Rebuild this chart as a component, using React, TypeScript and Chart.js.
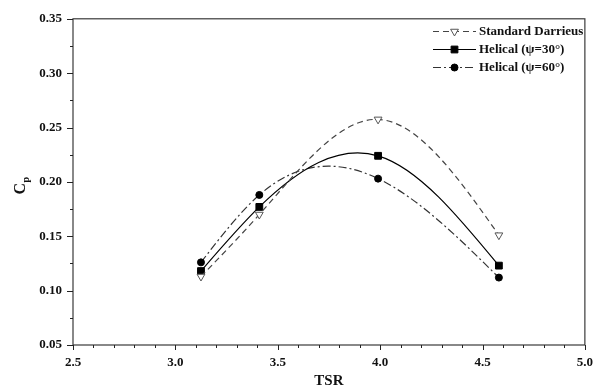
import React, { useEffect, useRef } from 'react';
import { Chart, registerables } from 'chart.js';
import { drawPoint } from 'chart.js/helpers';

Chart.register(...registerables);

// ---- data ----
const tsr = [3.125, 3.41, 3.99, 4.58];
const standardDarrieus = [0.113, 0.17, 0.2575, 0.151];
const helical30 = [0.118, 0.177, 0.224, 0.123];
const helical60 = [0.126, 0.188, 0.203, 0.112];
const seriesLabels = ['Standard Darrieus', 'Helical (ψ=30°)', 'Helical (ψ=60°)'];
const xTickValues = [2.5, 3.0, 3.5, 4.0, 4.5, 5.0];
const yTickValues = [0.05, 0.1, 0.15, 0.2, 0.25, 0.3, 0.35];
const xTitle = 'TSR';
const yTitleMain = 'C';
const yTitleSub = 'p';

const FONT = "'Liberation Serif', 'Times New Roman', serif";

const toPoints = (ys: number[]) => tsr.map((x, i) => ({ x, y: ys[i] }));

// Natural cubic spline node derivatives (data space)
function splineDerivs(xs: number[], ys: number[]) {
  const n = xs.length;
  const h: number[] = [];
  const s: number[] = [];
  for (let i = 0; i < n - 1; i++) {
    h.push(xs[i + 1] - xs[i]);
    s.push((ys[i + 1] - ys[i]) / h[i]);
  }
  const M = new Array(n).fill(0);
  if (n > 2) {
    const a: number[] = [], b: number[] = [], c: number[] = [], d: number[] = [];
    for (let i = 1; i < n - 1; i++) {
      a.push(h[i - 1]);
      b.push(2 * (h[i - 1] + h[i]));
      c.push(h[i]);
      d.push(6 * (s[i] - s[i - 1]));
    }
    const m = b.length;
    for (let i = 1; i < m; i++) {
      const w = a[i] / b[i - 1];
      b[i] -= w * c[i - 1];
      d[i] -= w * d[i - 1];
    }
    const sol = new Array(m).fill(0);
    sol[m - 1] = d[m - 1] / b[m - 1];
    for (let i = m - 2; i >= 0; i--) sol[i] = (d[i] - c[i] * sol[i + 1]) / b[i];
    for (let i = 0; i < m; i++) M[i + 1] = sol[i];
  }
  const der: number[] = [];
  for (let i = 0; i < n; i++) {
    if (i < n - 1) der.push(s[i] - (h[i] * (2 * M[i] + M[i + 1])) / 6);
    else der.push(s[n - 2] + (h[n - 2] * (M[n - 2] + 2 * M[n - 1])) / 6);
  }
  return { der, h };
}

const splinePlugin = {
  id: 'naturalSpline',
  beforeDatasetDraw(chart: any, args: any) {
    const meta = args.meta;
    const line = meta.dataset;
    const pts = meta.data;
    const xsData = tsr;
    const ysData = chart.data.datasets[args.index].data.map((p: any) => p.y);
    const { der, h } = splineDerivs(xsData, ysData);
    const xs = chart.scales.x;
    const ys = chart.scales.y;
    for (let i = 0; i < pts.length; i++) {
      const p = pts[i];
      if (i > 0) {
        const hh = h[i - 1] / 3;
        p.cp1x = xs.getPixelForValue(xsData[i] - hh);
        p.cp1y = ys.getPixelForValue(ysData[i] - hh * der[i]);
      } else {
        p.cp1x = p.x;
        p.cp1y = p.y;
      }
      if (i < pts.length - 1) {
        const hh = h[i] / 3;
        p.cp2x = xs.getPixelForValue(xsData[i] + hh);
        p.cp2y = ys.getPixelForValue(ysData[i] + hh * der[i]);
      } else {
        p.cp2x = p.x;
        p.cp2y = p.y;
      }
    }
    line._pointsUpdated = true;
    line._path = undefined;
  },
};

const framePlugin = {
  id: 'frameTicks',
  afterDraw(chart: any) {
    const { ctx, chartArea, scales } = chart;
    const { left, right, top, bottom } = chartArea;
    const xs = scales.x;
    const ys = scales.y;
    ctx.save();
    ctx.strokeStyle = '#3a3a3a';
    ctx.lineWidth = 1.2;
    ctx.strokeRect(left, top, right - left, bottom - top);
    ctx.lineWidth = 1;
    ctx.strokeStyle = '#222';
    for (let i = 0; i <= 25; i++) {
      const v = 2.5 + i * 0.1;
      const px = Math.round(xs.getPixelForValue(v)) + 0.5;
      const len = i % 5 === 0 ? 5 : 3;
      ctx.beginPath();
      ctx.moveTo(px, bottom);
      ctx.lineTo(px, bottom + len);
      ctx.stroke();
    }
    for (let i = 0; i <= 12; i++) {
      const v = 0.05 + i * 0.025;
      const py = Math.round(ys.getPixelForValue(v)) + 0.5;
      const len = i % 2 === 0 ? 6 : 3;
      ctx.beginPath();
      ctx.moveTo(left - len, py);
      ctx.lineTo(left, py);
      ctx.stroke();
    }
    // y title with subscript
    ctx.save();
    ctx.translate(20, 186);
    ctx.rotate(-Math.PI / 2);
    ctx.fillStyle = '#111';
    ctx.textBaseline = 'alphabetic';
    ctx.font = `bold 16px ${FONT}`;
    const wC = ctx.measureText(yTitleMain).width;
    ctx.font = `bold 10px ${FONT}`;
    const wP = ctx.measureText(yTitleSub).width;
    const x0 = -(wC + wP) / 2;
    ctx.font = `bold 16px ${FONT}`;
    ctx.fillText(yTitleMain, x0, 5);
    ctx.font = `bold 10px ${FONT}`;
    ctx.fillText(yTitleSub, x0 + wC + 0.5, 9);
    ctx.restore();

    // legend
    const rows = [31, 49, 67];
    chart.data.datasets.forEach((ds: any, i: number) => {
      const y = rows[i] + 0.5;
      ctx.save();
      ctx.strokeStyle = ds.borderColor;
      ctx.lineWidth = ds.borderWidth;
      ctx.setLineDash(ds.borderDash || []);
      ctx.beginPath();
      ctx.moveTo(433, y);
      ctx.lineTo(476, y);
      ctx.stroke();
      ctx.setLineDash([]);
      ctx.fillStyle = ds.pointBackgroundColor;
      ctx.strokeStyle = ds.pointBorderColor;
      ctx.lineWidth = 1;
      drawPoint(ctx, { pointStyle: ds.pointStyle, rotation: ds.pointRotation || 0, radius: ds.pointRadius, borderWidth: 1 }, 454.5, y);
      ctx.fillStyle = '#111';
      ctx.font = `bold 13px ${FONT}`;
      ctx.textBaseline = 'middle';
      ctx.textAlign = 'left';
      ctx.fillText(ds.label, 479, y + 0.5);
      ctx.restore();
    });
    ctx.restore();
  },
};

export default function App() {
  const ref = useRef<HTMLCanvasElement | null>(null);
  useEffect(() => {
    document.body.style.margin = '0';
    const canvas = ref.current!;
    const chart = new Chart(canvas, {
      type: 'line',
      data: {
        datasets: [
          {
            label: seriesLabels[0],
            data: toPoints(standardDarrieus),
            borderColor: '#444',
            borderWidth: 1.2,
            borderDash: [6, 4],
            tension: 0.3,
            pointStyle: 'triangle',
            pointRotation: 180,
            pointRadius: 4.5,
            pointBackgroundColor: '#fff',
            pointBorderColor: '#555',
            pointBorderWidth: 1,
          } as any,
          {
            label: seriesLabels[1],
            data: toPoints(helical30),
            borderColor: '#000',
            borderWidth: 1.2,
            borderDash: [],
            tension: 0.3,
            pointStyle: 'rect',
            pointRadius: 4.8,
            pointBackgroundColor: '#000',
            pointBorderColor: '#000',
            pointBorderWidth: 1,
          },
          {
            label: seriesLabels[2],
            data: toPoints(helical60),
            borderColor: '#333',
            borderWidth: 1.2,
            borderDash: [8, 3, 2, 3],
            tension: 0.3,
            pointStyle: 'circle',
            pointRadius: 3.5,
            pointBackgroundColor: '#000',
            pointBorderColor: '#000',
            pointBorderWidth: 1,
          },
        ],
      },
      options: {
        animation: false,
        responsive: false,
        devicePixelRatio: 1,
        layout: { padding: { left: 0, top: 14, right: 10, bottom: 0 } },
        plugins: { legend: { display: false }, tooltip: { enabled: false } },
        scales: {
          x: {
            type: 'linear',
            min: 2.5,
            max: 5.0,
            afterBuildTicks: (s: any) => {
              s.ticks = xTickValues.map((v) => ({ value: v }));
            },
            afterFit: (s: any) => {
              s.height = 47;
            },
            grid: { display: false, drawTicks: false },
            border: { display: false },
            ticks: {
              padding: 10,
              color: '#111',
              font: { family: FONT, size: 13, weight: 'bold' },
              maxRotation: 0,
              autoSkip: false,
              callback: (v: any) => Number(v).toFixed(1),
            },
            title: {
              display: true,
              text: xTitle,
              color: '#111',
              font: { family: FONT, size: 15, weight: 'bold' },
              padding: { top: 0, bottom: 2 },
            },
          },
          y: {
            type: 'linear',
            min: 0.05,
            max: 0.35,
            afterBuildTicks: (s: any) => {
              s.ticks = yTickValues.map((v) => ({ value: v }));
            },
            afterFit: (s: any) => {
              s.width = 73;
            },
            grid: { display: false, drawTicks: false },
            border: { display: false },
            ticks: {
              padding: 11,
              color: '#111',
              font: { family: FONT, size: 13, weight: 'bold' },
              autoSkip: false,
              callback: (v: any) => Number(v).toFixed(2),
            },
            title: { display: false },
          },
        },
      },
      plugins: [splinePlugin, framePlugin],
    });
    return () => chart.destroy();
  }, []);
  return <canvas ref={ref} width={603} height={392} style={{ display: 'block' }} />;
}
